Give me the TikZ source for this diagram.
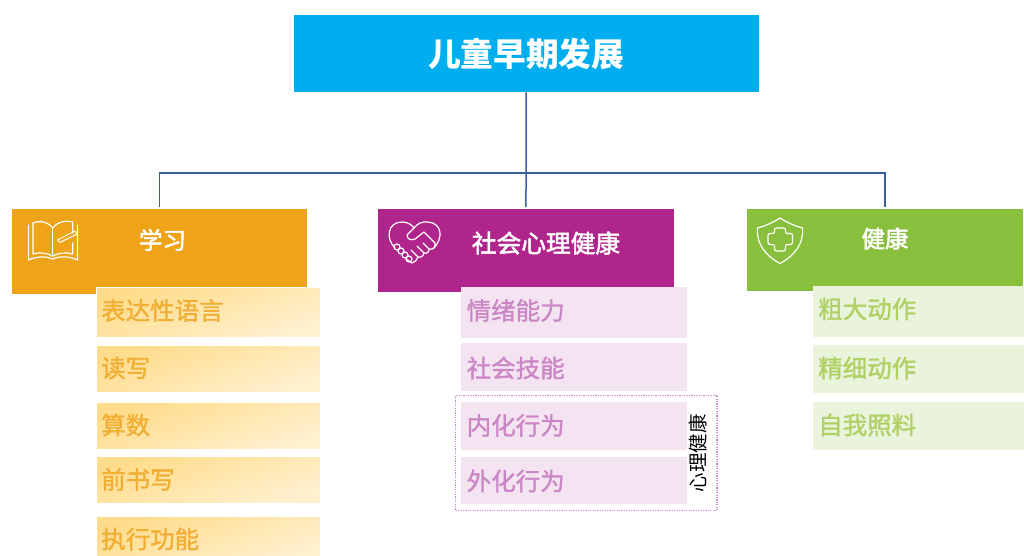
\documentclass[tikz,border=0pt]{standalone}
\usepackage{fontspec}
\newfontfamily\cjk{Noto Sans CJK SC}
\newfontfamily\cjkmid[FakeBold=1.3]{Noto Sans CJK SC}
\newfontfamily\cjkhead[FakeBold=2.2]{Noto Sans CJK SC}
\definecolor{rootblue}{HTML}{00AEEF}
\definecolor{linkblue}{HTML}{3A5F9E}
\definecolor{learnhead}{HTML}{EFA318}
\definecolor{learntext}{HTML}{F0AE35}
\definecolor{learntop}{HTML}{FFDC8A}
\definecolor{learnend}{HTML}{FFF0CF}
\definecolor{socialhead}{HTML}{B0258C}
\definecolor{socialtext}{HTML}{CB86C6}
\definecolor{socialfill}{HTML}{F4E3F0}
\definecolor{healthhead}{HTML}{88BF3C}
\definecolor{healthtext}{HTML}{AFD164}
\definecolor{healthfill}{HTML}{EAF3DC}
\tikzset{
    headbox/.style={anchor=north west, inner sep=0pt},
    headtext/.style={text=white, font=\cjkhead\fontsize{23.5}{23.5}\selectfont},
    itemtext/.style={anchor=west, inner sep=0pt, font=\cjkmid\fontsize{24.5}{24.5}\selectfont},
    icon/.style={draw=white, line width=1.2pt, line join=round, line cap=round},
}
\begin{document}
\begin{tikzpicture}[x=1pt, y=-1pt]
        \useasboundingbox (0,0) rectangle (1024,556);
        \node [headbox, fill=rootblue, minimum width=465pt, minimum height=77pt, text=white,
            font=\cjk\bfseries\fontsize{32.7}{32.7}\selectfont] (root) at (293.5,15) {\raisebox{2pt}{儿童早期发展}};
        \node [headbox, fill=learnhead, minimum width=295pt, minimum height=85pt] (learn) at (12,209) {};
        \node [headbox, fill=socialhead, minimum width=295.5pt, minimum height=83pt] (social) at (378,209) {};
        \node [headbox, fill=healthhead, minimum width=276pt, minimum height=82pt] (health) at (747,209) {};
        \coordinate (hub) at (root.south |- 0,173);
        \draw [linkblue, line width=1.5pt, shorten >=2pt] (root.south) -- (social.north);
        \draw [linkblue, line width=1.5pt, shorten >=2pt] (hub) -| (learn.north);
        \draw [linkblue, line width=1.5pt, shorten >=2pt] (hub) -| (health.north);
        \node [headtext] (learntitle) at (162.5,240) {学习};
        \node [headtext, font=\cjkhead\fontsize{24.7}{24.7}\selectfont] (socialtitle) at (546,243) {社会心理健康};
        \node [headtext] (healthtitle) at (885,238.5) {健康};
        % items under each head
        \foreach \i/\ya/\yb/\ty/\txt in {1/287.5/337/310.5/表达性语言,2/345.5/392/368/读写,3/402.5/449/425/算数,4/456.5/503/479.5/前书写,5/516.5/560/539/执行功能}
        {
            \shade [top color=learntop, bottom color=learnend, shading angle=20, draw=white] (96,\ya) rectangle (320.5,\yb);
            \node [itemtext, text=learntext] (learn\i) at (101,\ty) {\txt};
        }
        \foreach \i/\ya/\yb/\ty/\txt in {1/287/338/310.5/情绪能力,2/343/391/368/社会技能,3/402/450/425.5/内化行为,4/457/504/481/外化行为}
        {
            \fill [socialfill] (461,\ya) rectangle (687,\yb);
            \node [itemtext, text=socialtext] (social\i) at (466.5,\ty) {\txt};
        }
        \foreach \i/\ya/\yb/\ty/\txt in {1/285.5/337/309/粗大动作,2/345/393/368/精细动作,3/402/450/425/自我照料}
        {
            \fill [healthfill] (812.5,\ya) rectangle (1024,\yb);
            \node [itemtext, text=healthtext] (health\i) at (818,\ty) {\txt};
        }
        \draw [socialtext, dash pattern=on 1.2pt off 1.2pt, line width=1.2pt] (455.5,395.5) rectangle (717,510.5);
        \node [rotate=90, inner sep=0pt, font=\cjk\fontsize{19.5}{19.5}\selectfont] (mental) at (698,453) {心理健康};
        % book
        \draw [icon] (28.5,225) -- (28.5,260) .. controls (38,256) and (46,256) .. (52.7,259) .. controls (60,256) and (68,256) .. (77.5,260) -- (77.5,225);
        \draw [icon] (33,223) -- (33,254) .. controls (40,252) and (47,253) .. (52.7,256) .. controls (58,253) and (66,252) .. (72.7,254) -- (72.7,243);
        \draw [icon] (33,223) .. controls (41,220) and (48,222) .. (52.7,228) .. controls (57,222) and (65,220) .. (72.7,222) -- (72.7,233);
        \draw [icon] (52.7,228) -- (52.7,256);
        \draw [icon, line width=.9pt] (57.5,240) -- (75,231) -- (77,234) -- (60,242.5) -- cycle;
        % handshake heart
        \draw [icon] (395,248) .. controls (385,238) and (388,222) .. (402,222) .. controls (408,222) and (412,225) .. (414,228)
            .. controls (417,224) and (422,221) .. (428,222) .. controls (442,223) and (444,238) .. (433,249);
        \draw [icon] (414,228) -- (407,235) .. controls (407,239) and (411,241) .. (415,239) -- (424,232) -- (435,243)
            .. controls (436,247) and (433,250) .. (429,249) -- (423,243);
        \draw [icon] (429,249) .. controls (429,252) and (427,254) .. (424,253) -- (417,246);
        \draw [icon] (424,253) .. controls (423,257) and (420,258) .. (418,257) -- (411,250);
        \draw [icon] (418,257) .. controls (417,260) and (415,262) .. (412,263) -- (406,259);
        \foreach \hx/\hy in {397/247,401/251,405/255,409/259}
        {
            \draw [icon] (\hx,\hy) circle (3pt);
        }
        % shield
        \draw [icon] (780,218) .. controls (772,223) and (765,226) .. (757.5,228) .. controls (756,244) and (766,256) .. (780,263.5)
            .. controls (794,256) and (804,244) .. (802.5,228) .. controls (795,226) and (788,223) .. (780,218) -- cycle;
        \draw [icon, rounded corners=2pt] (774.5,228) -- (785.5,228) -- (785.5,233.5) -- (792.5,233.5) -- (792.5,244.5) -- (785.5,244.5) -- (785.5,251)
            -- (774.5,251) -- (774.5,244.5) -- (768,244.5) -- (768,233.5) -- (774.5,233.5) -- cycle;
        \end{tikzpicture}
\end{document}
